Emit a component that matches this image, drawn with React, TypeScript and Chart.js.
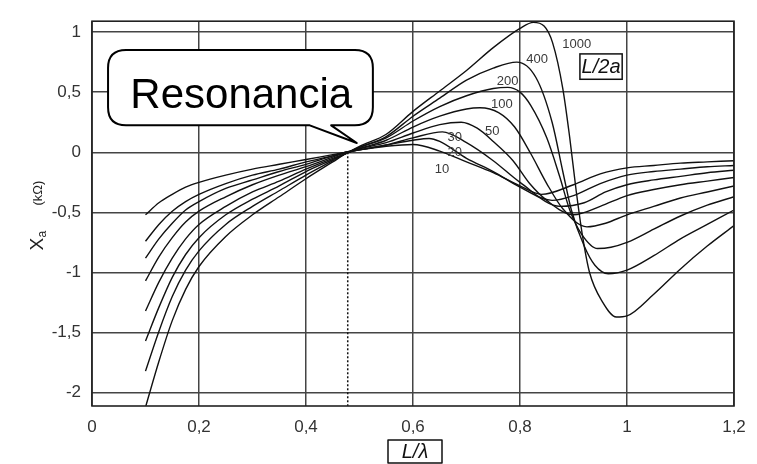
import { useEffect, useRef } from "react";
import { Chart, registerables } from "chart.js";

Chart.register(...registerables);

// Curve family parameter L/2a
const SERIES_NAMES = ["10", "20", "30", "50", "100", "200", "400", "1000"];

// L/λ and X_a (kΩ), per curve
const X_10 = [0.1, 0.125, 0.15, 0.175, 0.2, 0.25, 0.3, 0.35, 0.4, 0.45, 0.475, 0.5, 0.55, 0.6, 0.65, 0.7, 0.75, 0.8, 0.84, 0.9, 0.95, 1.0, 1.05, 1.1, 1.15, 1.2];
const Y_10 = [-0.52, -0.42, -0.35, -0.29, -0.25, -0.19, -0.14, -0.1, -0.06, -0.02, 0.0, 0.02, 0.05, 0.065, 0.01, -0.08, -0.17, -0.28, -0.35, -0.27, -0.18, -0.13, -0.11, -0.09, -0.08, -0.07];

const X_20 = [0.1, 0.125, 0.15, 0.175, 0.2, 0.25, 0.3, 0.35, 0.4, 0.45, 0.475, 0.5, 0.55, 0.6, 0.63, 0.65, 0.7, 0.75, 0.8, 0.86, 0.9, 0.95, 1.0, 1.05, 1.1, 1.15, 1.2];
const Y_20 = [-0.74, -0.6, -0.49, -0.41, -0.35, -0.26, -0.19, -0.14, -0.08, -0.03, 0.0, 0.02, 0.06, 0.1, 0.115, 0.09, -0.05, -0.16, -0.29, -0.4, -0.36, -0.26, -0.19, -0.16, -0.14, -0.12, -0.11];

const X_30 = [0.1, 0.125, 0.15, 0.175, 0.2, 0.25, 0.3, 0.35, 0.4, 0.45, 0.475, 0.5, 0.55, 0.6, 0.655, 0.7, 0.75, 0.8, 0.875, 0.92, 0.96, 1.0, 1.05, 1.1, 1.15, 1.2];
const Y_30 = [-0.88, -0.72, -0.59, -0.48, -0.41, -0.3, -0.23, -0.16, -0.1, -0.03, 0.0, 0.02, 0.06, 0.12, 0.17, 0.08, -0.07, -0.25, -0.45, -0.42, -0.33, -0.27, -0.23, -0.2, -0.17, -0.15];

const X_50 = [0.1, 0.125, 0.15, 0.175, 0.2, 0.25, 0.3, 0.35, 0.4, 0.45, 0.475, 0.5, 0.55, 0.6, 0.65, 0.69, 0.72, 0.75, 0.787, 0.818, 0.85, 0.9, 0.95, 1.0, 1.05, 1.1, 1.15, 1.2];
const Y_50 = [-1.07, -0.87, -0.71, -0.58, -0.49, -0.37, -0.27, -0.19, -0.12, -0.04, 0.0, 0.03, 0.08, 0.16, 0.23, 0.25, 0.2, 0.09, -0.07, -0.26, -0.4, -0.52, -0.45, -0.36, -0.31, -0.27, -0.24, -0.21];

const X_100 = [0.1, 0.125, 0.15, 0.175, 0.2, 0.25, 0.3, 0.35, 0.4, 0.45, 0.475, 0.5, 0.55, 0.6, 0.65, 0.7, 0.725, 0.76, 0.79, 0.82, 0.85, 0.88, 0.925, 0.96, 1.0, 1.05, 1.1, 1.15, 1.2];
const Y_100 = [-1.32, -1.08, -0.88, -0.72, -0.6, -0.45, -0.33, -0.24, -0.14, -0.05, -0.01, 0.03, 0.1, 0.21, 0.3, 0.36, 0.37, 0.33, 0.21, -0.01, -0.26, -0.47, -0.62, -0.59, -0.52, -0.45, -0.38, -0.33, -0.28];

const X_200 = [0.1, 0.125, 0.15, 0.175, 0.2, 0.25, 0.3, 0.35, 0.4, 0.45, 0.475, 0.5, 0.55, 0.6, 0.65, 0.7, 0.75, 0.777, 0.8, 0.82, 0.85, 0.874, 0.893, 0.915, 0.945, 0.97, 1.0, 1.05, 1.1, 1.15, 1.2];
const Y_200 = [-1.57, -1.29, -1.04, -0.85, -0.71, -0.52, -0.39, -0.28, -0.16, -0.06, -0.01, 0.04, 0.12, 0.26, 0.38, 0.47, 0.53, 0.54, 0.5, 0.39, 0.12, -0.2, -0.48, -0.68, -0.8, -0.79, -0.75, -0.64, -0.53, -0.44, -0.37];

const X_400 = [0.1, 0.125, 0.15, 0.175, 0.2, 0.25, 0.3, 0.35, 0.4, 0.45, 0.475, 0.5, 0.55, 0.6, 0.65, 0.7, 0.75, 0.794, 0.83, 0.86, 0.88, 0.896, 0.92, 0.94, 0.965, 1.0, 1.05, 1.1, 1.15, 1.2];
const Y_400 = [-1.82, -1.49, -1.2, -0.98, -0.82, -0.6, -0.45, -0.32, -0.19, -0.07, -0.01, 0.04, 0.13, 0.3, 0.45, 0.6, 0.7, 0.75, 0.62, 0.25, -0.16, -0.48, -0.78, -0.94, -1.01, -0.98, -0.86, -0.72, -0.6, -0.48];

const X_1000 = [0.1, 0.125, 0.15, 0.175, 0.2, 0.25, 0.3, 0.35, 0.4, 0.45, 0.475, 0.5, 0.55, 0.6, 0.65, 0.7, 0.75, 0.8, 0.825, 0.845, 0.861, 0.88, 0.893, 0.905, 0.917, 0.93, 0.955, 0.98, 1.0, 1.05, 1.1, 1.15, 1.2];
const Y_1000 = [-2.12, -1.74, -1.4, -1.14, -0.95, -0.7, -0.52, -0.37, -0.22, -0.08, -0.01, 0.05, 0.15, 0.34, 0.51, 0.68, 0.87, 1.03, 1.08, 1.05, 0.91, 0.53, 0.12, -0.32, -0.7, -1.0, -1.25, -1.37, -1.36, -1.18, -0.97, -0.78, -0.61];

const CURVES_X = [X_10, X_20, X_30, X_50, X_100, X_200, X_400, X_1000];
const CURVES_Y = [Y_10, Y_20, Y_30, Y_50, Y_100, Y_200, Y_400, Y_1000];

// resonance marker
const RESONANCE_X = 0.478;
const RESONANCE_Y_TOP = 0;

// axes
const X_MIN = 0;
const X_MAX = 1.2;
const X_STEP = 0.2;
const Y_MIN = -2.11;
const Y_MAX = 1.09;
const Y_STEP = 0.5;

// texts
const Y_TITLE_MAIN = "X";
const Y_TITLE_SUB = "a";
const Y_TITLE_UNIT = "(kΩ)";
const X_TITLE = "L/λ";
const PARAM_TITLE = "L/2a";
const CALLOUT_TEXT = "Resonancia";

// annotation anchors (data units)
const CURVE_LABEL_POS: [number, number][] = [
  [0.654, -0.14],
  [0.678, 0.0],
  [0.678, 0.12],
  [0.748, 0.17],
  [0.766, 0.4],
  [0.777, 0.59],
  [0.832, 0.77],
  [0.906, 0.9],
];
const PARAM_BOX = { x0: 0.912, x1: 0.991, y0: 0.818, y1: 0.607 };
const CALLOUT_BOX = { x0: 0.03, x1: 0.525, y0: 0.851, y1: 0.224 };
const CALLOUT_TAIL = { base0: 0.407, base1: 0.447, tipX: 0.495, tipY: 0.077 };
const CALLOUT_TEXT_POS = { x: 0.279, y: 0.37 };

const FONT = '"Liberation Sans", Arial, Helvetica, sans-serif';

function fmt(v: number): string {
  const r = Math.round(v * 10) / 10;
  return String(r).replace(".", ",");
}

const overlayPlugin = {
  id: "overlay",
  afterDatasetsDraw(chart: any) {
    const { ctx, chartArea: a, scales } = chart;
    const xs = scales.x;
    const ys = scales.y;
    const px = (v: number) => xs.getPixelForValue(v);
    const py = (v: number) => ys.getPixelForValue(v);
    ctx.save();

    // frame
    ctx.strokeStyle = "#222";
    ctx.lineWidth = 1.6;
    ctx.strokeRect(a.left, a.top, a.right - a.left, a.bottom - a.top);

    // curve labels
    ctx.fillStyle = "#3a3a3a";
    ctx.font = `13px ${FONT}`;
    ctx.textAlign = "center";
    ctx.textBaseline = "middle";
    CURVE_LABEL_POS.forEach(([lx, ly], i) => {
      ctx.fillText(SERIES_NAMES[i], px(lx), py(ly));
    });

    // L/2a box
    {
      const x0 = px(PARAM_BOX.x0), x1 = px(PARAM_BOX.x1);
      const y0 = py(PARAM_BOX.y0), y1 = py(PARAM_BOX.y1);
      ctx.fillStyle = "#fff";
      ctx.fillRect(x0, y0, x1 - x0, y1 - y0);
      ctx.strokeStyle = "#111";
      ctx.lineWidth = 1.5;
      ctx.strokeRect(x0, y0, x1 - x0, y1 - y0);
      ctx.fillStyle = "#111";
      ctx.font = `italic 20px ${FONT}`;
      ctx.textAlign = "center";
      ctx.textBaseline = "middle";
      ctx.fillText(PARAM_TITLE, (x0 + x1) / 2, (y0 + y1) / 2 + 1);
    }

    // callout bubble
    {
      const l = px(CALLOUT_BOX.x0), r = px(CALLOUT_BOX.x1);
      const t = py(CALLOUT_BOX.y0), b = py(CALLOUT_BOX.y1);
      const rad = 18;
      const b0 = px(CALLOUT_TAIL.base0), b1 = px(CALLOUT_TAIL.base1);
      const tx = px(CALLOUT_TAIL.tipX), ty = py(CALLOUT_TAIL.tipY);
      ctx.beginPath();
      ctx.moveTo(l + rad, t);
      ctx.lineTo(r - rad, t);
      ctx.quadraticCurveTo(r, t, r, t + rad);
      ctx.lineTo(r, b - rad);
      ctx.quadraticCurveTo(r, b, r - rad, b);
      ctx.lineTo(b1, b);
      ctx.lineTo(tx, ty);
      ctx.lineTo(b0, b);
      ctx.lineTo(l + rad, b);
      ctx.quadraticCurveTo(l, b, l, b - rad);
      ctx.lineTo(l, t + rad);
      ctx.quadraticCurveTo(l, t, l + rad, t);
      ctx.closePath();
      ctx.fillStyle = "#fff";
      ctx.fill();
      ctx.strokeStyle = "#000";
      ctx.lineWidth = 2;
      ctx.lineJoin = "round";
      ctx.stroke();
      ctx.fillStyle = "#000";
      ctx.font = `42px ${FONT}`;
      ctx.textAlign = "center";
      ctx.textBaseline = "alphabetic";
      ctx.fillText(CALLOUT_TEXT, px(CALLOUT_TEXT_POS.x), py(CALLOUT_TEXT_POS.y));
    }

    // x axis title in a box
    {
      const cx = (a.left + a.right) / 2 + 2;
      const top = a.bottom + 34;
      const w = 54, h = 23;
      ctx.strokeStyle = "#111";
      ctx.lineWidth = 1.5;
      ctx.strokeRect(cx - w / 2, top, w, h);
      ctx.fillStyle = "#111";
      ctx.font = `italic 20px ${FONT}`;
      ctx.textAlign = "center";
      ctx.textBaseline = "middle";
      ctx.fillText(X_TITLE, cx, top + h / 2 + 1);
    }

    // y axis title (rotated)
    {
      ctx.translate(a.left - 56, (a.top + a.bottom) / 2 + 0);
      ctx.rotate(-Math.PI / 2);
      ctx.fillStyle = "#222";
      ctx.textAlign = "left";
      ctx.textBaseline = "alphabetic";
      ctx.font = `19px ${FONT}`;
      ctx.fillText(Y_TITLE_MAIN, -37, 7);
      ctx.font = `12px ${FONT}`;
      ctx.fillText(Y_TITLE_SUB, -24, 10);
      ctx.font = `13px ${FONT}`;
      ctx.fillText(Y_TITLE_UNIT, 8, 6);
    }

    ctx.restore();
  },
};

export default function App() {
  const ref = useRef<HTMLCanvasElement | null>(null);

  useEffect(() => {
    if (!ref.current) return;
    const curveSets = CURVES_X.map((xsArr, i) => ({
      label: SERIES_NAMES[i],
      data: xsArr.map((xv, j) => ({ x: xv, y: CURVES_Y[i][j] })),
      borderColor: "#111",
      borderWidth: 1.4,
      pointRadius: 0,
      cubicInterpolationMode: "monotone" as const,
      fill: false,
    }));
    const resonance = {
      label: "resonance",
      data: [
        { x: RESONANCE_X, y: RESONANCE_Y_TOP },
        { x: RESONANCE_X, y: Y_MIN },
      ],
      borderColor: "#111",
      borderWidth: 1.5,
      borderDash: [2, 2],
      pointRadius: 0,
      fill: false,
    };
    const chart = new Chart(ref.current, {
      type: "line",
      data: { datasets: [...curveSets, resonance] as any },
      options: {
        animation: false,
        responsive: false,
        maintainAspectRatio: false,
        devicePixelRatio: 1,
        layout: { padding: { top: 14, right: 23, left: 0, bottom: 0 } },
        plugins: {
          legend: { display: false },
          tooltip: { enabled: false },
          title: { display: false },
        },
        scales: {
          x: {
            type: "linear",
            min: X_MIN,
            max: X_MAX,
            ticks: {
              stepSize: X_STEP,
              padding: 11,
              color: "#333",
              font: { family: FONT, size: 17 },
              callback: (v: any) => fmt(Number(v)),
            },
            grid: { color: "#444", lineWidth: 1.5, drawTicks: false },
            border: { display: false },
            afterFit: (s: any) => {
              s.height = 58;
            },
          },
          y: {
            type: "linear",
            min: Y_MIN,
            max: Y_MAX,
            ticks: {
              stepSize: Y_STEP,
              includeBounds: false,
              padding: 11,
              color: "#333",
              font: { family: FONT, size: 17 },
              callback: (v: any) => fmt(Number(v)),
            },
            grid: { color: "#444", lineWidth: 1.5, drawTicks: false },
            border: { display: false },
            afterFit: (s: any) => {
              s.width = 92;
            },
          },
        },
      },
      plugins: [overlayPlugin],
    });
    return () => chart.destroy();
  }, []);

  return (
    <div style={{ position: "fixed", left: 0, top: 0, width: 757, height: 464, background: "#fff" }}>
      <canvas ref={ref} width={757} height={464} style={{ width: 757, height: 464 }} />
    </div>
  );
}
